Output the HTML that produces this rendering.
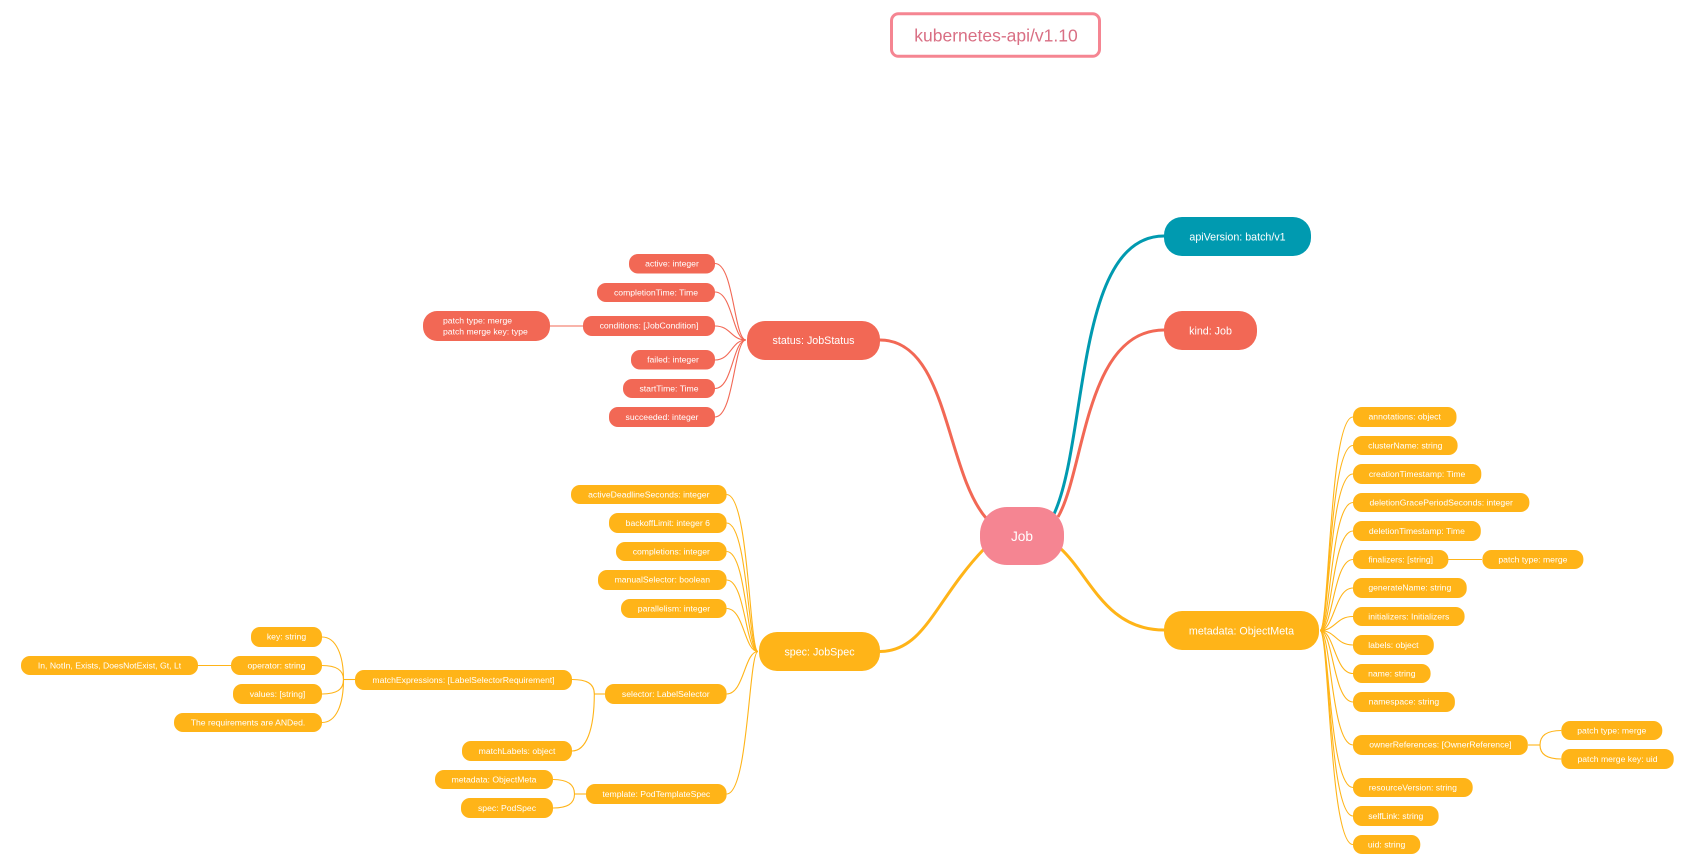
<!DOCTYPE html>
<html><head><meta charset="utf-8"><title>kubernetes-api/v1.10 Job</title>
<style>
html,body{margin:0;padding:0;background:#fff;width:1693px;height:864px;overflow:hidden}
svg{display:block}
text{font-family:"Liberation Sans",Arial,sans-serif;fill:#fff;text-anchor:middle}
.l text{font-size:8.65px;transform:translateY(-.5px)}
.m text{font-size:10.7px}
.c{fill:none;stroke-width:1.1}
.b{fill:none;stroke-width:3}
</style></head><body>
<svg width="1693" height="864" viewBox="0 0 1693 864" xmlns="http://www.w3.org/2000/svg">
<rect x="891.5" y="13.8" width="208" height="42.5" rx="7" fill="#fff" stroke="#f58592" stroke-width="3"/>
<text x="996" y="41.7" style="font-size:17.5px;fill:#d96f84">kubernetes-api/v1.10</text>

<!-- main branches -->
<path class="b" stroke="#009ab0" d="M1054,514 C1088,440 1075,236 1164,236"/>
<path class="b" stroke="#f26855" d="M1058,517 C1085,470 1085,330 1164,330"/>
<path class="b" stroke="#f26855" d="M880,340 C948,340 945,470 986,518"/>
<path class="b" stroke="#ffb418" d="M880,651.5 C925,651 935,600 984,549"/>
<path class="b" stroke="#ffb418" d="M1060,548 C1090,575 1105,630 1164,630"/>

<!-- status connectors -->
<g class="c" stroke="#f26855">
<path d="M715,263.5 C733.9,263.5 733.9,340 746,340"/>
<path d="M715,292 C732.7,292 732.7,340 746,340"/>
<path d="M715,326 C731,326 731,340 746,340"/>
<path d="M715,360 C731.4,360 731.4,340 746,340"/>
<path d="M715,388.5 C732.7,388.5 732.7,340 746,340"/>
<path d="M715,417 C733.9,417 733.9,340 746,340"/>
<path d="M550,326 H583"/>
</g>
<!-- spec connectors -->
<g class="c" stroke="#ffb418">
<path d="M726.6,494.5 C749.2,494.5 749.2,651.5 758,651.5"/>
<path d="M726.6,523 C748,523 748,651.5 758,651.5"/>
<path d="M726.6,551.5 C746.7,551.5 746.7,651.5 758,651.5"/>
<path d="M726.6,580 C745.4,580 745.4,651.5 758,651.5"/>
<path d="M726.6,608.5 C744.2,608.5 744.2,651.5 758,651.5"/>
<path d="M726.6,694 C744.2,694 744.2,651.5 758,651.5"/>
<path d="M726.6,794 C748.6,794 748.6,651.5 758,651.5"/>
<path d="M605,694 H594.3"/>
<path d="M572,679.5 C586,679.5 594.3,683 594.3,694"/>
<path d="M572,751 C586,751 594.3,730 594.3,694"/>
<path d="M355,679.5 H343.5"/>
<path d="M322,637 C336,637 343.5,655 343.5,679.5"/>
<path d="M322,665.5 C336,665.5 343.5,670 343.5,679.5"/>
<path d="M322,694 C336,694 343.5,690 343.5,679.5"/>
<path d="M322,722.5 C336,722.5 343.5,705 343.5,679.5"/>
<path d="M198,665.5 H231"/>
<path d="M586,794 H574.5"/>
<path d="M553,779.5 C567,779.5 574.5,784 574.5,794"/>
<path d="M553,808 C567,808 574.5,804 574.5,794"/>
<!-- metadata connectors -->
<path d="M1353,417 C1329.2,417 1329.2,630.5 1320,630.5"/>
<path d="M1353,445.5 C1329.2,445.5 1329.2,630.5 1320,630.5"/>
<path d="M1353,474 C1329.2,474 1329.2,630.5 1320,630.5"/>
<path d="M1353,502.5 C1330.6,502.5 1330.6,630.5 1320,630.5"/>
<path d="M1353,531 C1331.9,531 1331.9,630.5 1320,630.5"/>
<path d="M1353,559.5 C1333.2,559.5 1333.2,630.5 1320,630.5"/>
<path d="M1353,588 C1334.5,588 1334.5,630.5 1320,630.5"/>
<path d="M1353,616.5 C1335.8,616.5 1335.8,630.5 1320,630.5"/>
<path d="M1353,645 C1335.8,645 1335.8,630.5 1320,630.5"/>
<path d="M1353,673.5 C1334.5,673.5 1334.5,630.5 1320,630.5"/>
<path d="M1353,702 C1333.2,702 1333.2,630.5 1320,630.5"/>
<path d="M1353,745 C1331.2,745 1331.2,630.5 1320,630.5"/>
<path d="M1353,787.5 C1329.2,787.5 1329.2,630.5 1320,630.5"/>
<path d="M1353,816 C1329.2,816 1329.2,630.5 1320,630.5"/>
<path d="M1353,844.5 C1329.2,844.5 1329.2,630.5 1320,630.5"/>
<path d="M1448,559.5 H1482"/>
<path d="M1528,745 H1540"/>
<path d="M1561.3,730.5 C1548,730.5 1540,735 1540,745"/>
<path d="M1561.3,759 C1548,759 1540,755 1540,745"/>
</g>

<!-- main nodes -->
<rect x="980" y="507" width="84" height="58" rx="27" fill="#f58592"/>
<text x="1022" y="541" style="font-size:13.7px">Job</text>
<g class="m">
<rect x="1164" y="217" width="147" height="39" rx="18" fill="#009ab0"/><text x="1237.5" y="240.5">apiVersion: batch/v1</text>
<rect x="1164" y="311" width="93" height="39" rx="18" fill="#f26855"/><text x="1210.5" y="334.5">kind: Job</text>
<rect x="747" y="321" width="133" height="39" rx="18" fill="#f26855"/><text x="813.5" y="344">status: JobStatus</text>
<rect x="759" y="632" width="121" height="39" rx="18" fill="#ffb418"/><text x="819.5" y="655.5">spec: JobSpec</text>
<rect x="1164" y="611" width="155" height="39" rx="18" fill="#ffb418"/><text x="1241.5" y="634.5">metadata: ObjectMeta</text>
</g>

<!-- status leaves -->
<g class="l" fill="#f26855">
<rect x="629" y="254" width="86" height="19.5" rx="9"/><text x="672" y="267">active: integer</text>
<rect x="597" y="283" width="118" height="19" rx="9"/><text x="656" y="296">completionTime: Time</text>
<rect x="583" y="316" width="132" height="20" rx="9"/><text x="649" y="329">conditions: [JobCondition]</text>
<rect x="631" y="350" width="84" height="19.5" rx="9"/><text x="673" y="363">failed: integer</text>
<rect x="623" y="379" width="92" height="19" rx="9"/><text x="669" y="392">startTime: Time</text>
<rect x="609" y="407" width="106" height="20" rx="9"/><text x="662" y="420.5">succeeded: integer</text>
<rect x="423" y="311" width="127" height="30" rx="14"/>
<text x="443" y="324" style="text-anchor:start">patch type: merge</text>
<text x="443" y="335" style="text-anchor:start">patch merge key: type</text>
</g>

<!-- spec leaves -->
<g class="l" fill="#ffb418">
<rect x="571" y="485" width="155.6" height="19" rx="9"/><text x="648.8" y="498">activeDeadlineSeconds: integer</text>
<rect x="609" y="513" width="117.6" height="20" rx="9"/><text x="667.8" y="526.5">backoffLimit: integer 6</text>
<rect x="616" y="542" width="110.6" height="19" rx="9"/><text x="671.3" y="555">completions: integer</text>
<rect x="598" y="570" width="128.6" height="20" rx="9"/><text x="662.3" y="583">manualSelector: boolean</text>
<rect x="621" y="599" width="105.6" height="19" rx="9"/><text x="674" y="612">parallelism: integer</text>
<rect x="605" y="684" width="121.6" height="20" rx="9"/><text x="665.8" y="697.5">selector: LabelSelector</text>
<rect x="586" y="784" width="140.6" height="20" rx="9"/><text x="656.3" y="797.5">template: PodTemplateSpec</text>
<rect x="355" y="670" width="217" height="20" rx="9"/><text x="463.5" y="683.5">matchExpressions: [LabelSelectorRequirement]</text>
<rect x="462" y="741" width="110" height="20" rx="9"/><text x="517" y="754.5">matchLabels: object</text>
<rect x="435" y="770" width="118" height="19" rx="9"/><text x="494" y="783">metadata: ObjectMeta</text>
<rect x="461" y="798" width="92" height="20" rx="9"/><text x="507" y="811.5">spec: PodSpec</text>
<rect x="251" y="627" width="71" height="20" rx="9"/><text x="286.5" y="640">key: string</text>
<rect x="231" y="656" width="91" height="19" rx="9"/><text x="276.5" y="669">operator: string</text>
<rect x="21" y="656" width="177" height="19" rx="9"/><text x="109.5" y="669">In, NotIn, Exists, DoesNotExist, Gt, Lt</text>
<rect x="233" y="684" width="89" height="20" rx="9"/><text x="277.5" y="697.5">values: [string]</text>
<rect x="174" y="713" width="148" height="19" rx="9"/><text x="248" y="726">The requirements are ANDed.</text>
</g>

<!-- metadata leaves -->
<g class="l" fill="#ffb418">
<rect x="1353" y="407" width="103.5" height="20" rx="9"/><text x="1404.7" y="420">annotations: object</text>
<rect x="1353" y="436" width="104.6" height="19" rx="9"/><text x="1405.3" y="449">clusterName: string</text>
<rect x="1353" y="464" width="128.3" height="20" rx="9"/><text x="1417.1" y="477.5">creationTimestamp: Time</text>
<rect x="1353" y="493" width="176.4" height="19" rx="9"/><text x="1441.2" y="506">deletionGracePeriodSeconds: integer</text>
<rect x="1353" y="521" width="127.8" height="20" rx="9"/><text x="1416.9" y="534.5">deletionTimestamp: Time</text>
<rect x="1353" y="550" width="95.4" height="19" rx="9"/><text x="1400.7" y="563">finalizers: [string]</text>
<rect x="1482.4" y="550" width="101" height="19" rx="9"/><text x="1532.9" y="563">patch type: merge</text>
<rect x="1353" y="578" width="113.7" height="20" rx="9"/><text x="1409.8" y="591">generateName: string</text>
<rect x="1353" y="607" width="111.6" height="19" rx="9"/><text x="1408.8" y="620">initializers: Initializers</text>
<rect x="1353" y="635" width="80.8" height="20" rx="9"/><text x="1393.4" y="648.5">labels: object</text>
<rect x="1353" y="664" width="77.6" height="19" rx="9"/><text x="1391.8" y="677">name: string</text>
<rect x="1353" y="692" width="101.9" height="20" rx="9"/><text x="1403.9" y="705">namespace: string</text>
<rect x="1353" y="735" width="174.8" height="20" rx="9"/><text x="1440.4" y="748">ownerReferences: [OwnerReference]</text>
<rect x="1561.3" y="721" width="101" height="19" rx="9"/><text x="1611.8" y="734">patch type: merge</text>
<rect x="1561.3" y="749" width="112.4" height="20" rx="9"/><text x="1617.5" y="762.5">patch merge key: uid</text>
<rect x="1353" y="778" width="119.7" height="19" rx="9"/><text x="1412.8" y="791">resourceVersion: string</text>
<rect x="1353" y="806" width="85.6" height="20" rx="9"/><text x="1395.8" y="819.5">selfLink: string</text>
<rect x="1353" y="835" width="67.3" height="19" rx="9"/><text x="1386.6" y="848">uid: string</text>
</g>
</svg>
</body></html>
